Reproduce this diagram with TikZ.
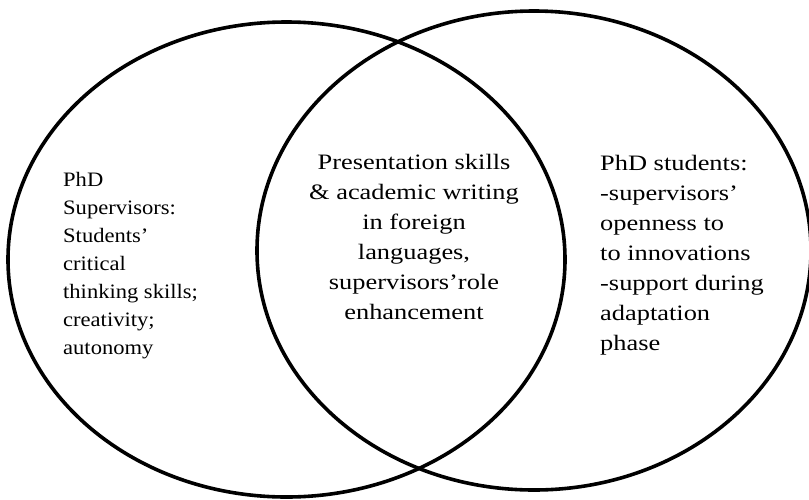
\documentclass[tikz,border=0pt]{standalone}
\usepackage{fontspec}
\setmainfont{Liberation Serif}[FakeStretch=1.2]
\newfontfamily\supfont{Liberation Serif}[FakeStretch=1.1]
\usetikzlibrary{shapes.geometric}

\begin{document}
\begin{tikzpicture} [x=1pt,y=-1pt,
    set/.style={draw,ellipse,line width=3.6pt,inner sep=0pt,minimum width=556pt,minimum height=476pt},
    set text/.style={inner sep=0pt,font=\fontsize{22}{30}\selectfont}]
  \useasboundingbox (0,0) rectangle (809,499);
  \node[set,minimum width=557pt,minimum height=475pt] (sup) at (286.5,259.5) {};
  \node[set,minimum width=554pt,minimum height=479pt] (stu) at (534,250.5) {};

  \node[set text,font=\supfont\fontsize{20.5}{28}\selectfont,align=left,anchor=base west] (sup_text) at (63,354)
    {PhD\\Supervisors:\\Students’\\critical\\thinking skills;\\creativity;\\autonomy};
  \node[set text,align=center,anchor=base] (both_text) at (414,319)
    {Presentation skills\\\& academic writing\\in foreign\\languages,\\supervisors’role\\enhancement};
  \node[set text,align=left,anchor=base west] (stu_text) at (600,350)
    {PhD students:\\-supervisors’\\openness to\\to innovations\\-support during\\adaptation\\phase};
\end{tikzpicture}
\end{document}
